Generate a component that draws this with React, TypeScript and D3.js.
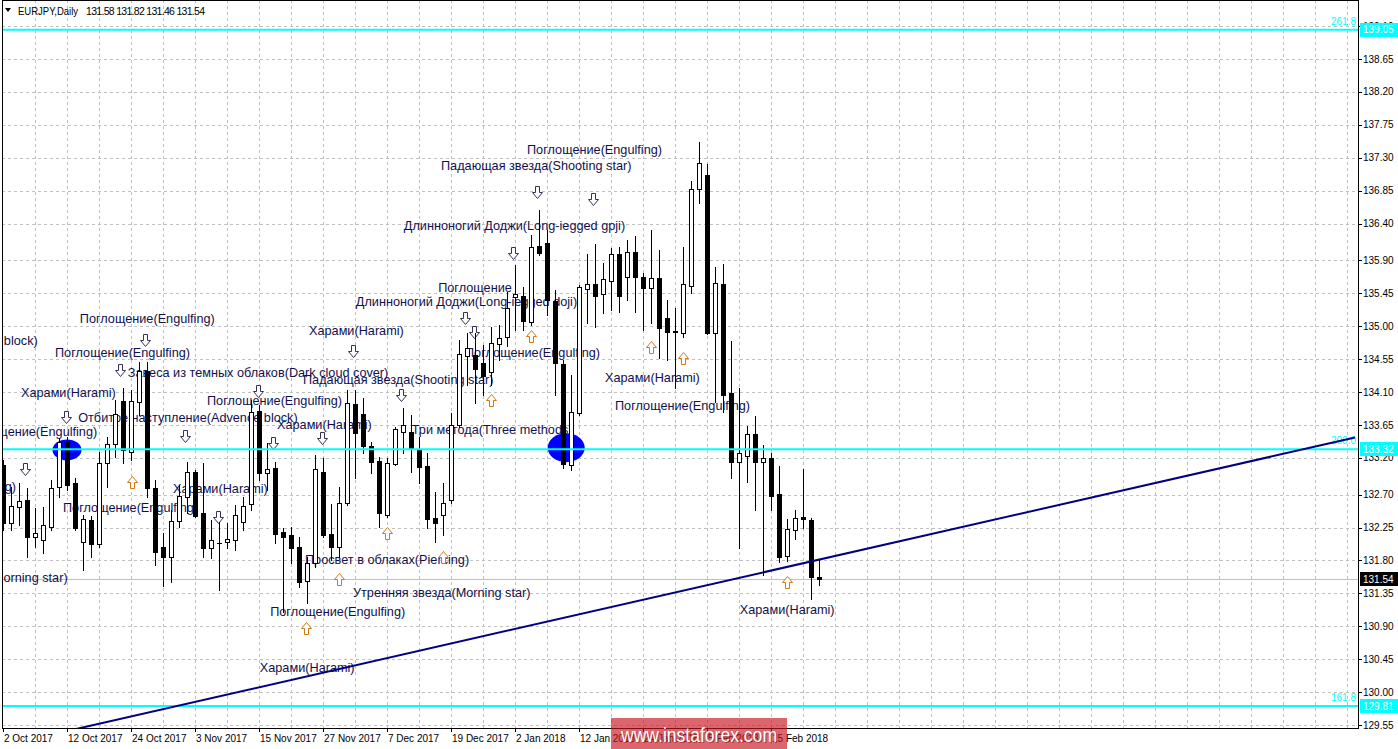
import React from 'react';
import * as d3 from 'd3';

const W = 1398;
const H = 749;

const symbolName = 'EURJPY,Daily';
const lastOHLC = ['131.58', '131.82', '131.46', '131.54'];
const lastPrice = 131.54;

// Daily candles starting 2 Oct 2017
const opens = [
  133.10, 132.31, 132.53, 132.63, 132.12, 132.08, 132.26, 132.80, 133.42, 132.86,
  132.05, 132.35, 132.02, 133.13, 133.39, 133.98, 133.28, 133.96, 134.39, 132.79,
  131.98, 131.85, 132.34, 132.67, 133.01, 132.45, 131.97, 132.04, 132.05, 132.08,
  132.32, 132.57, 133.84, 132.99, 133.06, 132.19, 132.15, 131.98, 131.52, 131.77,
  133.01, 132.16, 131.98, 132.58, 133.94, 133.80, 133.36, 133.16, 132.42, 133.12,
  133.56, 133.56, 133.31, 133.09, 132.38, 132.42, 132.63, 133.65, 134.59, 134.61,
  134.50, 134.37, 134.76, 134.85, 135.40, 135.41, 135.06, 136.10, 136.14, 135.34,
  134.48, 133.10, 133.81, 135.51, 135.58, 135.44, 135.62, 135.99, 135.67, 136.01,
  135.67, 135.52, 135.66, 135.11, 134.92, 134.91, 135.55, 136.87, 137.07, 134.91,
  135.58, 134.09, 133.14, 133.23, 133.53, 133.14, 133.20, 132.71, 131.86, 132.22,
  132.39, 132.35, 131.58,
];
const highs = [
  133.17, 132.80, 132.86, 132.79, 132.52, 132.53, 132.90, 133.47, 133.49, 132.93,
  132.42, 132.41, 133.28, 133.49, 133.99, 134.16, 134.13, 134.51, 134.51, 132.90,
  132.17, 132.49, 132.83, 133.14, 133.04, 133.13, 132.35, 132.32, 132.31, 132.56,
  132.67, 133.99, 133.92, 133.40, 133.14, 132.24, 132.26, 132.12, 131.85, 133.24,
  133.20, 132.57, 132.80, 134.13, 134.13, 134.02, 133.42, 133.21, 133.20, 133.62,
  133.88, 133.79, 133.49, 133.27, 132.73, 132.86, 133.81, 134.81, 134.91, 134.91,
  134.74, 134.99, 135.02, 135.47, 135.84, 135.54, 136.25, 136.59, 136.31, 135.49,
  134.54, 134.33, 135.56, 135.99, 136.12, 135.86, 136.07, 136.08, 136.18, 136.23,
  135.73, 136.31, 136.04, 135.36, 135.25, 136.08, 136.98, 137.52, 137.22, 135.81,
  135.85, 134.80, 134.16, 133.64, 133.77, 133.38, 133.27, 133.09, 132.37, 132.49,
  133.05, 132.38, 131.82,
];
const lows = [
  132.22, 132.22, 132.28, 131.85, 131.98, 131.90, 132.22, 132.67, 132.76, 132.22,
  131.67, 131.85, 131.98, 132.80, 133.21, 133.13, 133.17, 133.79, 132.67, 131.74,
  131.45, 131.51, 132.26, 132.45, 132.39, 131.85, 131.83, 131.40, 131.97, 131.94,
  132.22, 132.49, 132.90, 132.76, 132.04, 131.10, 131.77, 131.44, 131.22, 131.71,
  132.12, 131.81, 131.85, 132.56, 132.93, 133.27, 132.99, 132.26, 132.39, 133.10,
  133.27, 133.01, 132.86, 132.24, 132.05, 132.15, 132.59, 133.62, 134.20, 133.95,
  134.06, 134.20, 134.54, 134.73, 134.95, 134.95, 135.02, 135.97, 135.15, 134.06,
  133.06, 133.04, 133.79, 135.04, 134.99, 135.18, 135.22, 135.19, 135.36, 135.19,
  134.95, 135.04, 134.57, 134.54, 134.16, 134.85, 135.45, 136.68, 134.90, 133.96,
  133.83, 132.93, 131.97, 132.87, 132.49, 131.60, 132.49, 131.78, 131.79, 132.09,
  132.24, 131.27, 131.46,
];
const closes = [
  132.31, 132.54, 132.61, 132.12, 132.17, 132.28, 132.79, 133.42, 132.83, 132.24,
  132.37, 132.02, 133.13, 133.39, 133.80, 133.31, 133.98, 134.39, 132.79, 131.92,
  131.85, 132.34, 132.68, 133.01, 132.41, 131.97, 132.08, 132.04, 132.09, 132.42,
  132.54, 133.83, 132.99, 133.05, 132.16, 132.12, 131.97, 131.51, 131.77, 133.05,
  132.15, 131.98, 132.58, 133.95, 133.54, 133.36, 133.14, 132.45, 133.13, 133.60,
  133.65, 133.32, 133.08, 132.37, 132.31, 132.59, 133.65, 134.62, 134.70, 134.42,
  134.32, 134.77, 134.84, 135.25, 135.44, 135.07, 136.08, 136.00, 135.36, 134.50,
  133.12, 133.83, 135.54, 135.58, 135.41, 135.64, 135.99, 135.41, 136.01, 135.67,
  135.52, 135.66, 134.97, 134.92, 134.93, 135.58, 136.87, 137.23, 134.91, 135.59,
  134.06, 133.14, 133.27, 133.53, 133.14, 133.20, 132.68, 131.85, 132.23, 132.38,
  132.37, 131.58, 131.54,
];

const dateLabels = [
  '2 Oct 2017', '12 Oct 2017', '24 Oct 2017', '3 Nov 2017', '15 Nov 2017', '27 Nov 2017',
  '7 Dec 2017', '19 Dec 2017', '2 Jan 2018', '12 Jan 2018', '24 Jan 2018', '5 Feb 2018', '15 Feb 2018',
];
const dateLabelBars = [0, 8, 16, 24, 32, 40, 48, 56, 64, 72, 80, 88, 96];

const priceTicks = [
  129.55, 130.00, 130.45, 130.90, 131.35, 131.80, 132.25, 132.70, 133.20, 133.65, 134.10,
  134.55, 135.00, 135.45, 135.90, 136.40, 136.85, 137.30, 137.75, 138.20, 138.65, 139.10,
];

const levelValues = [139.05, 133.32, 129.81];
const levelRatios = ['261.8', '200.0', '161.8'];

const trendBars = [0, 169];
const trendPrices = [129.27, 133.48];

const markerBars = [8, 70.4];
const markerPrices = [133.31, 133.34];

const patternTexts = [
  'Поглощение(Engulfing)', 'Падающая звезда(Shooting star)', 'Длинноногий Доджи(Long-iegged gpji)',
  'Поглощение', 'Длинноногий Доджи(Long-iegged doji)', 'Поглощение(Engulfing)', 'Харами(Harami)',
  'Поглощение(Engulfing)', 'Харами(Harami)', 'Поглощение(Engulfing)', 'Отбитое наступление(Advence block)',
  'Поглощение(Engulfing)', 'Харами(Harami)', 'Завеса из темных облаков(Dark cloud cover)', 'Харами(Harami)',
  'Падающая звезда(Shooting star)', 'Поглощение(Engulfing)', 'Отбитое наступление(Advence block)',
  'Харами(Harami)', 'Поглощение(Engulfing)', 'Три метода(Three methods)', 'Харами(Harami)',
  'Поглощение(Engulfing)', 'Поглощение(Engulfing)', 'Просвет в облаках(Piercing)',
  'Утренняя звезда(Morning star)', 'Утренняя звезда(Morning star)', 'Поглощение(Engulfing)', 'Харами(Harami)',
];
const patternBars = [
  65.5, 54.75, 50.1, 54.4, 44.1, 57.75, 75.25, 76.5, 92.1, 9.6, -23.1,
  6.5, 38.25, 15.6, 2.25, 37.5, 25.5, 9.4, 34.25, -5.1, 51.1, 21.25,
  -15.25, 7.5, 37.75, -14.1, 43.75, 33.4, 32.1,
];
const patternPrices = [
  137.41, 137.19, 136.37, 135.52, 135.33, 134.63, 134.29, 133.91, 131.12, 135.10, 134.80,
  134.63, 134.94, 134.36, 134.09, 134.27, 133.98, 133.75, 133.65, 133.55, 133.58, 132.78,
  132.80, 132.52, 131.81, 131.56, 131.35, 131.10, 130.33,
];

const downArrowBars = [17.75, 14.6, 7.9, 2.75, 22.75, 31.9, 33.75, 39.9, 26.9, 63.75, 43.75, 57.75, 58.9, 49.75, 66.75, 73.75];
const downArrowPrices = [134.81, 134.40, 133.76, 133.05, 133.50, 134.11, 133.41, 133.47, 132.39, 136.00, 134.66, 135.11, 134.92, 134.06, 136.83, 136.74];
const upArrowBars = [16.1, 42, 37.9, 66, 61, 48, 55, 81, 85, 98];
const upArrowPrices = [132.87, 131.55, 130.88, 134.87, 133.99, 132.17, 131.85, 134.72, 134.57, 131.51];

const watermark = 'www.instaforex.com';

const PL = 2, PR = 1358, PT = 0, PB = 728;
const CYAN = '#00ffff';
const TEXT = '#10104e';
const AXFONT = '"Liberation Sans", Arial, sans-serif';

function downArrowPath(cx: number, cy: number) {
  return `M${cx - 2},${cy - 6} L${cx + 2},${cy - 6} L${cx + 2},${cy} L${cx + 5},${cy} L${cx},${cy + 6} L${cx - 5},${cy} L${cx - 2},${cy} Z`;
}
function upArrowPath(cx: number, cy: number) {
  return `M${cx - 2},${cy + 6} L${cx + 2},${cy + 6} L${cx + 2},${cy} L${cx + 5},${cy} L${cx},${cy - 6} L${cx - 5},${cy} L${cx - 2},${cy} Z`;
}

export default function App() {
  const x = d3.scaleLinear().domain([0, 169]).range([3, 1355]);
  const y = d3.scaleLinear().domain([129.511, 139.429]).range([728, 2]);

  const gridBars = d3.range(4, 170, 4);
  const trendLine = d3.line<number>()
    .x((_, i) => x(trendBars[i]))
    .y((d) => y(d));

  return (
    <div style={{ position: 'absolute', left: 0, top: 0, width: W, height: H, background: '#fff' }}>
      <svg width={W} height={H} style={{ display: 'block' }}>
        <defs>
          <clipPath id="plot">
            <rect x={3} y={1} width={PR - 3} height={PB - 1} />
          </clipPath>
        </defs>
        <rect x={0} y={0} width={W} height={H} fill="#fff" />

        {/* grid */}
        <g stroke="#c0c0c0" strokeWidth={1} strokeDasharray="3,3" shapeRendering="crispEdges">
          {gridBars.map((b) => (
            <line key={'gv' + b} x1={Math.round(x(b)) + 0.5} x2={Math.round(x(b)) + 0.5} y1={PT} y2={PB} />
          ))}
          {priceTicks.map((p) => (
            <line key={'gh' + p} x1={PL} x2={PR} y1={Math.round(y(p)) + 0.5} y2={Math.round(y(p)) + 0.5} />
          ))}
        </g>

        <g clipPath="url(#plot)">
          {/* current price line */}
          <line x1={PL} x2={PR} y1={Math.round(y(lastPrice)) + 0.5} y2={Math.round(y(lastPrice)) + 0.5}
            stroke="#c0c0c0" strokeWidth={1} shapeRendering="crispEdges" />

          {/* pattern labels */}
          <g fontFamily={AXFONT} fontSize={12.7} fill={TEXT}>
            {patternTexts.map((t, i) => (
              <text key={'t' + i} x={x(patternBars[i])} y={y(patternPrices[i])} dominantBaseline="central">{t}</text>
            ))}
          </g>

          {/* blue markers */}
          {markerBars.map((b, i) => (
            <ellipse key={'m' + i} cx={x(b)} cy={y(markerPrices[i])} rx={i === 0 ? 14.5 : 18.5} ry={i === 0 ? 10.5 : 14.5} fill="#0000ff" />
          ))}

          {/* arrows */}
          <g fill="#fff" strokeWidth={1} strokeLinejoin="miter">
            {downArrowBars.map((b, i) => (
              <path key={'da' + i} d={downArrowPath(Math.round(x(b)) + 0.5, Math.round(y(downArrowPrices[i])) + 0.5)} stroke="#3a2f55" />
            ))}
            {upArrowBars.map((b, i) => (
              <path key={'ua' + i} d={upArrowPath(Math.round(x(b)) + 0.5, Math.round(y(upArrowPrices[i])) + 0.5)} stroke="#d27a12" />
            ))}
          </g>

          {/* candles */}
          <g shapeRendering="crispEdges">
            {opens.map((o, i) => {
              const c = closes[i];
              const cx = Math.round(x(i));
              const yh = Math.round(y(highs[i]));
              const yl = Math.round(y(lows[i]));
              const yt = Math.round(y(Math.max(o, c)));
              const yb = Math.round(y(Math.min(o, c)));
              const bull = c > o;
              return (
                <g key={'c' + i}>
                  <line x1={cx + 0.5} x2={cx + 0.5} y1={yh} y2={yl + 1} stroke="#000" strokeWidth={1} />
                  {yb - yt < 1 ? (
                    <line x1={cx - 2} x2={cx + 3} y1={yt + 0.5} y2={yt + 0.5} stroke="#000" strokeWidth={1} />
                  ) : bull ? (
                    <rect x={cx - 1.5} y={yt + 0.5} width={4} height={yb - yt} fill="#fff" stroke="#000" strokeWidth={1} />
                  ) : (
                    <rect x={cx - 2} y={yt} width={5} height={yb - yt + 1} fill="#000" />
                  )}
                </g>
              );
            })}
          </g>

          {/* horizontal fibo levels */}
          {levelValues.map((v, i) => (
            <g key={'lv' + i}>
              <line x1={PL} x2={PR} y1={y(v)} y2={y(v)} stroke={CYAN} strokeWidth={2} />
              <text x={PR - 2} y={y(v) - 5} textAnchor="end" fontFamily={AXFONT} fontSize={10} fill={CYAN}>{levelRatios[i]}</text>
            </g>
          ))}

          {/* trend line */}
          <path d={trendLine(trendPrices) || ''} stroke="#000080" strokeWidth={2} fill="none" />
        </g>

        {/* frame */}
        <rect x={PL + 0.5} y={PT + 0.5} width={PR - PL} height={PB - PT} fill="none" stroke="#000" strokeWidth={1} shapeRendering="crispEdges" />

        {/* header */}
        <path d="M5,8 L11,8 L8,12 Z" fill="#000" />
        <text x={18} y={15} fontFamily={AXFONT} fontSize={10.5} fill="#000" textLength={60} lengthAdjust="spacingAndGlyphs">{symbolName}</text>
        <text x={86} y={15} fontFamily={AXFONT} fontSize={10.5} fill="#000" textLength={119} lengthAdjust="spacing">{lastOHLC.join(' ')}</text>

        {/* right axis */}
        <g fontFamily={AXFONT} fontSize={10} fill="#000">
          {priceTicks.map((p) => (
            <g key={'yt' + p}>
              <line x1={PR} x2={PR + 4} y1={Math.round(y(p)) + 0.5} y2={Math.round(y(p)) + 0.5} stroke="#000" shapeRendering="crispEdges" />
              <text x={PR + 5} y={y(p)} dominantBaseline="central">{p.toFixed(2)}</text>
            </g>
          ))}
        </g>
        {levelValues.map((v, i) => (
          <g key={'lb' + i}>
            <rect x={PR + 2} y={Math.round(y(v)) - 7} width={38} height={14} fill={CYAN} />
            <text x={PR + 5} y={y(v)} dominantBaseline="central" fontFamily={AXFONT} fontSize={10} fill="#fff">{v.toFixed(2)}</text>
          </g>
        ))}
        <rect x={PR + 2} y={Math.round(y(lastPrice)) - 7} width={38} height={14} fill="#000" />
        <text x={PR + 5} y={y(lastPrice)} dominantBaseline="central" fontFamily={AXFONT} fontSize={10} fill="#fff">{lastPrice.toFixed(2)}</text>

        {/* bottom axis */}
        <g fontFamily={AXFONT} fontSize={10} fill="#000">
          {dateLabelBars.map((b, i) => (
            <g key={'xt' + b}>
              <line x1={Math.round(x(b)) + 0.5} x2={Math.round(x(b)) + 0.5} y1={PB} y2={PB + 4} stroke="#000" shapeRendering="crispEdges" />
              <text x={Math.round(x(b)) + 1} y={742}>{dateLabels[i]}</text>
            </g>
          ))}
        </g>

        {/* watermark */}
        <rect x={611} y={718} width={176} height={31} fill="#c8141e" opacity={0.65} />
        <text x={622} y={743} fontFamily={AXFONT} fontSize={20} fill="#7a1a1a" opacity={0.5} textLength={156} lengthAdjust="spacingAndGlyphs">{watermark}</text>
        <text x={621} y={742} fontFamily={AXFONT} fontSize={20} fill="#fff" textLength={156} lengthAdjust="spacingAndGlyphs">{watermark}</text>
      </svg>
    </div>
  );
}
